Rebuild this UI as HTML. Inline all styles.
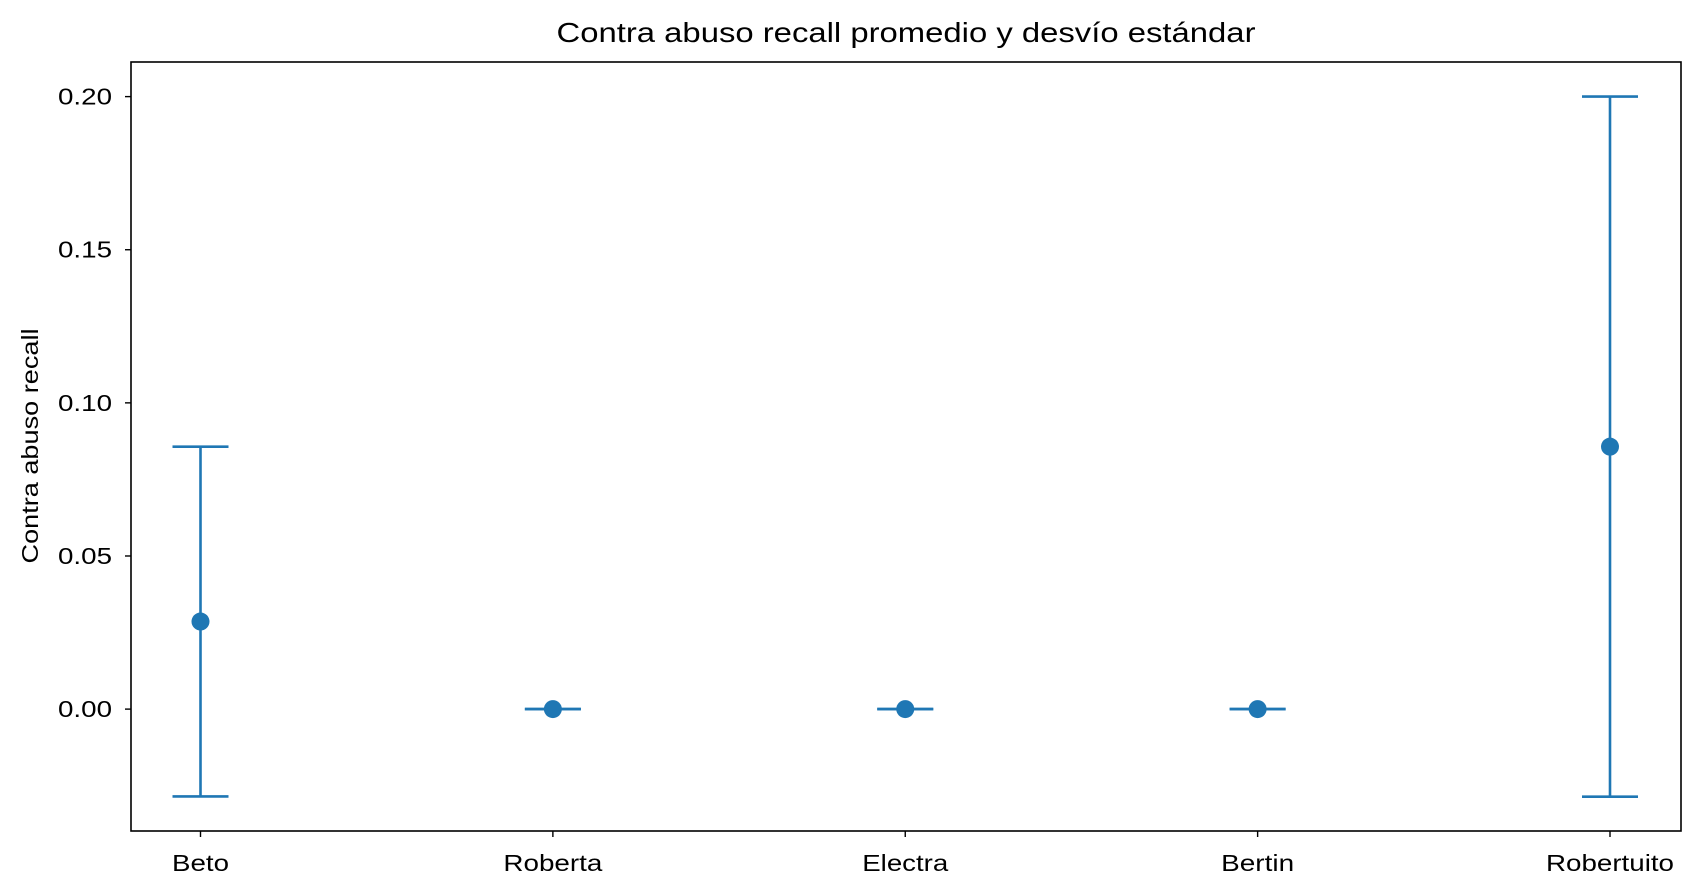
<!DOCTYPE html>
<html><head><meta charset="utf-8"><style>
html,body{margin:0;padding:0;background:#fff;}
svg{display:block;font-family:"Liberation Sans",sans-serif;}
</style></head><body>
<svg id="chart" width="1700" height="895" viewBox="0 0 1700 895">
<text x="906" y="42" font-size="28" text-anchor="middle" textLength="699" lengthAdjust="spacingAndGlyphs">Contra abuso recall promedio y desvío estándar</text>
<text transform="translate(38,446) rotate(-90)" font-size="23" text-anchor="middle" textLength="235" lengthAdjust="spacingAndGlyphs">Contra abuso recall</text>
<g id="marks"></g>
<rect x="131" y="62" width="1550" height="769" fill="none" stroke="#000" stroke-width="1.6"/>
</svg>
<script>
const categories = ["Beto","Roberta","Electra","Bertin","Robertuito"];
const means = [0.0286, 0, 0, 0, 0.0857];
const stds = [0.0571, 0, 0, 0, 0.1143];
const yTicks = [0, 0.05, 0.10, 0.15, 0.20];
const yTickLabels = ["0.00","0.05","0.10","0.15","0.20"];

const L=131,R=1681,T=62,B=831, yMin=-0.0398, yMax=0.2113;
const labelWidth = {"Beto":57,"Roberta":99,"Electra":86,"Bertin":73,"Robertuito":128};
const xPos = i => 200.5 + i*(1610-200.5)/(categories.length-1);
const yPos = v => B - (v - yMin)/(yMax - yMin)*(B - T);
const NS="http://www.w3.org/2000/svg";
const g=document.getElementById('marks');
function mk(tag,attrs,parent){const e=document.createElementNS(NS,tag);for(const k in attrs)e.setAttribute(k,attrs[k]);(parent||g).appendChild(e);return e;}
const C="#1f77b4";
yTicks.forEach((v,i)=>{
  const y=yPos(v);
  const t=mk('line',{x1:L-6,x2:L,y1:y,y2:y,stroke:"#000","stroke-width":1.4});
  
  
  const tx=mk('text',{x:L-19,y:y+8,"font-size":23,"text-anchor":"end",textLength:54,lengthAdjust:"spacingAndGlyphs"});
  tx.textContent=yTickLabels[i];
  
  
});
categories.forEach((c,i)=>{
  const x=xPos(i);
  const t=mk('line',{x1:x,x2:x,y1:B,y2:B+6,stroke:"#000","stroke-width":1.4});
  
  
  const tx=mk('text',{x:x,y:871,"font-size":23,"text-anchor":"middle",textLength:(labelWidth[c]||c.length*12.8),lengthAdjust:"spacingAndGlyphs"});
  tx.textContent=c;
  
  
  const hi=yPos(means[i]+stds[i]), lo=yPos(means[i]-stds[i]);
  const eg=mk('g',{});
  
  
  mk('line',{x1:x,x2:x,y1:hi,y2:lo,stroke:C,"stroke-width":2.6},eg);
  mk('line',{x1:x-28,x2:x+28,y1:hi,y2:hi,stroke:C,"stroke-width":2.6},eg);
  mk('line',{x1:x-28,x2:x+28,y1:lo,y2:lo,stroke:C,"stroke-width":2.6},eg);
  const p=mk('circle',{cx:x,cy:yPos(means[i]),r:9,fill:C});
  
  
});
</script>
</body></html>
